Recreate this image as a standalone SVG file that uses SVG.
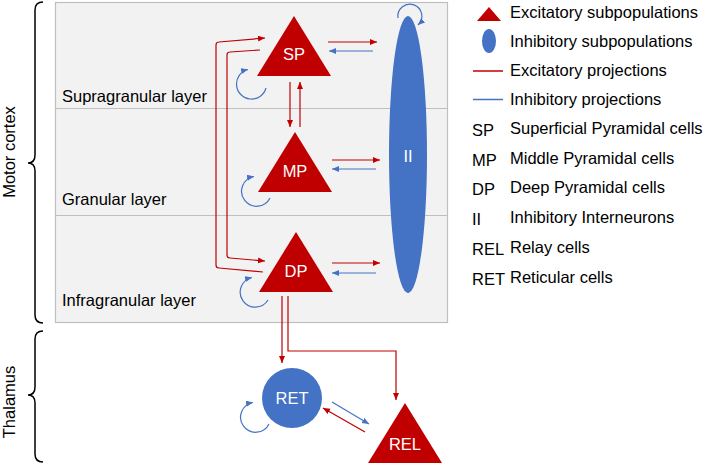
<svg xmlns="http://www.w3.org/2000/svg" width="703" height="463" viewBox="0 0 703 463">
<style>
text{font-family:"Liberation Sans",Arial,sans-serif;font-size:16.5px;fill:#000}
.w{fill:#fff}
.exc{fill:#C00000}
.inh{fill:#4472C4}
.r{fill:none;stroke:#C00000;stroke-width:1.2;marker-end:url(#ar)}
.b{fill:none;stroke:#4472C4;stroke-width:1.2;marker-end:url(#ab)}
.brace{fill:none;stroke:#000;stroke-width:1.5}
</style>
<defs>
<marker id="ar" markerUnits="userSpaceOnUse" markerWidth="8" markerHeight="7" refX="7" refY="3" orient="auto"><path d="M0,0 L7,3 L0,6 z" fill="#C00000"/></marker>
<marker id="ab" markerUnits="userSpaceOnUse" markerWidth="8" markerHeight="7" refX="7" refY="3" orient="auto"><path d="M0,0 L7,3 L0,6 z" fill="#4472C4"/></marker>
</defs>
<rect width="703" height="463" fill="#fff"/>
<g id="layers">
<rect x="55.5" y="2.5" width="392" height="320" fill="#F2F2F2" stroke="#BFBFBF" stroke-width="1.2"/>
<line x1="55.5" y1="108.5" x2="447.5" y2="108.5" stroke="#BFBFBF" stroke-width="1.2"/>
<line x1="55.5" y1="215.5" x2="447.5" y2="215.5" stroke="#BFBFBF" stroke-width="1.2"/>
<text x="62" y="102">Supragranular layer</text>
<text x="62" y="205">Granular layer</text>
<text x="62" y="306">Infragranular layer</text>
</g>
<g id="braces">
<path class="brace" d="M43,2 Q35,2 35,10 L35,155 Q35,163 28,163 Q35,163 35,171 L35,315 Q35,323 43,323"/>
<path class="brace" d="M43,331 Q35,331 35,339 L35,387 Q35,395 28,395 Q35,395 35,403 L35,454 Q35,462 43,462"/>
<text transform="translate(14.5,152) rotate(-90)" text-anchor="middle">Motor cortex</text>
<text transform="translate(14.5,402) rotate(-90)" text-anchor="middle">Thalamus</text>
</g>
<g id="connectors">
<path class="r" d="M263,272 L219,268 Q216,268 216,265 L216,45 Q216,42 219,42 L265,38"/>
<path class="r" d="M260,50 L230,52 Q227,52 227,55 L227,255 Q227,258 230,258 L265,261"/>
<path class="r" d="M290,82 L290,127"/>
<path class="r" d="M300,127 L300,82"/>
<path class="r" d="M328,42 L377,42"/>
<path class="b" d="M373,51 L329,51"/>
<path class="r" d="M332,160 L380,160"/>
<path class="b" d="M376,169 L332,169"/>
<path class="r" d="M332,263 L380,263"/>
<path class="b" d="M376,273 L332,273"/>
<path class="b" d="M266,88 A15,15 0 1 1 248,69.5"/>
<path class="b" d="M270,198 A15,15 0 1 1 254,176.5"/>
<path class="b" d="M268,300 A15,15 0 1 1 252,277.5"/>
<path class="b" d="M269,424 A15,15 0 1 1 253,402.5"/>
<path class="b" d="M398,18 A12,12 0 1 1 418,25"/>
<path class="r" d="M282,296 L282,363"/>
<path class="r" d="M288,296 L288,351 L396,351 L396,400"/>
<path class="b" d="M332,402 L369,424"/>
<path class="r" d="M365,432 L323,408"/>
</g>
<g id="SP"><polygon class="exc" points="294,16 257,76 331,76"/><text class="w" x="294" y="60" text-anchor="middle">SP</text></g>
<g id="MP"><polygon class="exc" points="295,132 258,192 332,192"/><text class="w" x="295" y="177" text-anchor="middle">MP</text></g>
<g id="DP"><polygon class="exc" points="296,232 259,292 333,292"/><text class="w" x="296" y="277" text-anchor="middle">DP</text></g>
<g id="II"><ellipse class="inh" cx="408" cy="154.5" rx="19" ry="138.5"/><text class="w" x="408" y="162" text-anchor="middle">II</text></g>
<g id="RET"><circle class="inh" cx="292" cy="398" r="30"/><text class="w" x="292" y="404" text-anchor="middle">RET</text></g>
<g id="REL"><polygon class="exc" points="405,403 368,463 442,463"/><text class="w" x="405" y="450" text-anchor="middle">REL</text></g>
<g id="legend">
<polygon class="exc" points="489,7 477,21 501,21"/>
<text x="510" y="18">Excitatory subpopulations</text>
<ellipse class="inh" cx="489" cy="41" rx="7" ry="12"/>
<text x="510" y="47">Inhibitory subpopulations</text>
<line x1="473" y1="71" x2="503" y2="71" stroke="#C00000" stroke-width="1.5"/>
<text x="510" y="76">Excitatory projections</text>
<line x1="473" y1="99.5" x2="503" y2="99.5" stroke="#4472C4" stroke-width="1.5"/>
<text x="510" y="105">Inhibitory projections</text>
<text x="472" y="136">SP</text><text x="510" y="134">Superficial Pyramidal cells</text>
<text x="472" y="166">MP</text><text x="510" y="164">Middle Pyramidal cells</text>
<text x="472" y="195">DP</text><text x="510" y="193">Deep Pyramidal cells</text>
<text x="472" y="225">II</text><text x="510" y="223">Inhibitory Interneurons</text>
<text x="472" y="255">REL</text><text x="510" y="253">Relay cells</text>
<text x="472" y="285">RET</text><text x="510" y="283">Reticular cells</text>
</g>
</svg>
